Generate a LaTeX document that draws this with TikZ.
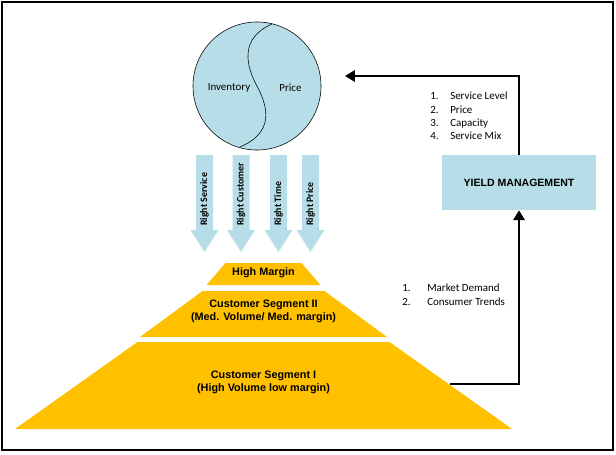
\documentclass[tikz,border=0pt]{standalone}
\usepackage{fontspec}
\setmainfont{Liberation Sans}
\newfontfamily\calibri{Carlito}
\usetikzlibrary{arrows.meta}

\tikzset{
  seglabel/.style={align=center,inner sep=0pt,font=\fontsize{7.7}{9.2}\selectfont\bfseries},
  listlabel/.style={align=left,inner sep=0pt,font=\calibri\fontsize{7.8}{9.4}\selectfont},
  arrowlabel/.style={rotate=90,anchor=west,inner sep=0pt,font=\calibri\fontsize{7}{8}\selectfont\bfseries},
  conn/.style={line width=2.1pt,-{Triangle[length=7pt,width=8pt]}}
}

\begin{document}
\begin{tikzpicture}[x=0.025cm,y=-0.025cm]
%\draw[gray] (0,0) grid[step=50] (616,454);

\definecolor{aqua_fill}{HTML}{B7DEE8}
\definecolor{pyramid_fill}{HTML}{FFC000}

\useasboundingbox (0,0) rectangle (616,454);
\draw[line width=2.1pt] (2,2) rectangle (613,450);

% market circle
\node[draw,circle,fill=aqua_fill,minimum size=3.2cm,inner sep=0pt] (market) at (257,86) {};
\draw (272,24) .. controls (240,38) and (245,65) .. (258,88) .. controls (272,115) and (268,135) .. (240,147);
\node[font=\calibri\fontsize{7.8}{9}\selectfont,inner sep=0pt] (inventory) at (229,88) {Inventory};
\node[font=\calibri\fontsize{7.8}{9}\selectfont,inner sep=0pt] (price) at (290.5,88) {Price};

% down arrows
\foreach \x/\lbl in {204.5/Right Service,241/Right Customer,278.5/Right Time,310.5/Right Price}{
\fill[aqua_fill] (\x-8.5,155) -- ++(17,0) -- (\x+8.5,230) -- (\x+14,230) -- (\x,252) -- (\x-14,230) -- (\x-8.5,230) -- cycle;
\node[arrowlabel] at (\x,226) {\lbl};
}

% pyramid
\fill[pyramid_fill] (225.5,263) -- (301.5,263) -- (320.5,285) -- (206.5,285) -- cycle;
\fill[pyramid_fill] (202.5,291) -- (324.5,291) -- (387,337) -- (140,337) -- cycle;
\fill[pyramid_fill] (137.5,342) -- (389.5,342) -- (512,429) -- (15,429) -- cycle;
\node[seglabel] (high_margin) at (263.5,273) {High Margin};
\node[seglabel] (segment_two) at (263.5,311.5) {Customer Segment II\\(Med. Volume/ Med. margin)};
\node[seglabel] (segment_one) at (263.5,382) {Customer Segment I\\(High Volume low margin)};

% yield management
\node[fill=aqua_fill,minimum width=3.825cm,minimum height=1.375cm,font=\fontsize{7.5}{9}\selectfont\bfseries] (yield) at (519,182.5) {YIELD MANAGEMENT};

\coordinate (feedback_end) at (345,76);
\coordinate (segment_edge) at (450,384);
\draw[conn] (yield.north) |- (feedback_end);
\draw[conn] (segment_edge) -| (yield.south);

\node[listlabel,anchor=north west] (levers) at (430,92) {\makebox[14.2pt][l]{1.}Service Level\\\makebox[14.2pt][l]{2.}Price\\\makebox[14.2pt][l]{3.}Capacity\\\makebox[14.2pt][l]{4.}Service Mix};
\node[listlabel,anchor=north west] (drivers) at (402,284) {\makebox[17.8pt][l]{1.}Market Demand\\\makebox[17.8pt][l]{2.}Consumer Trends};

\end{tikzpicture}
\end{document}
